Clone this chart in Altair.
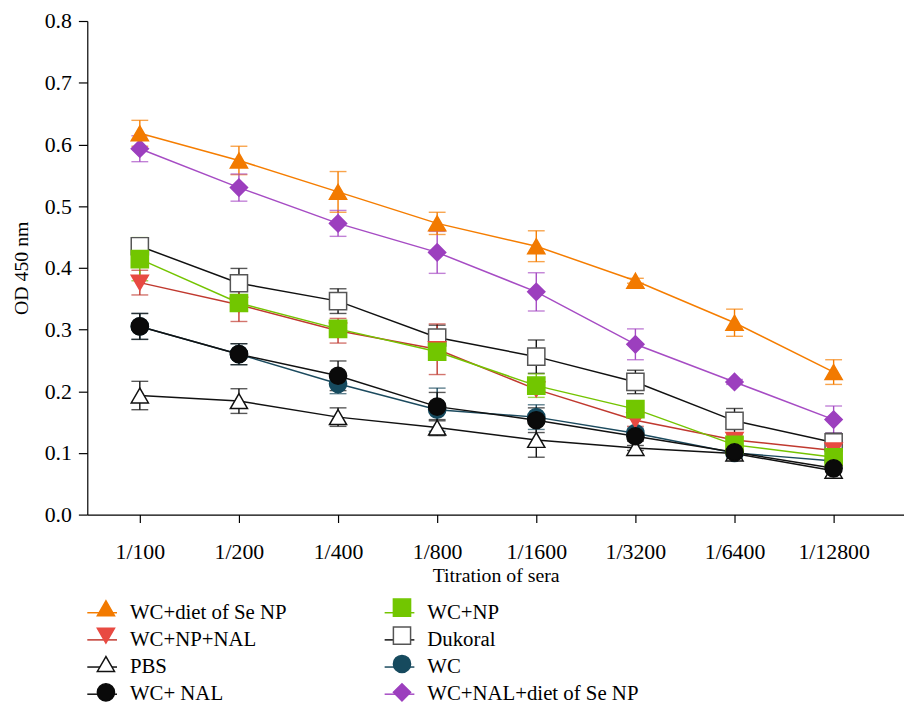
import altair as alt
import pandas as pd

dilutions = ["1/100", "1/200", "1/400", "1/800", "1/1600", "1/3200", "1/6400", "1/12800"]

# order matches the legend read column by column
series_names = ["WC+diet of Se NP", "WC+NP+NAL", "PBS", "WC+ NAL",
                "WC+NP", "Dukoral", "WC", "WC+NAL+diet of Se NP"]

# stacking order of the markers (first drawn at the bottom)
draw_order = ["WC+NAL+diet of Se NP", "WC", "Dukoral", "PBS", "WC+NP+NAL",
              "WC+NP", "WC+diet of Se NP", "WC+ NAL"]

wc_diet_se = [0.618, 0.574, 0.523, 0.472, 0.435, 0.379, 0.311, 0.231]
wc_diet_se_err = [0.021, 0.023, 0.033, 0.018, 0.025, 0.004, 0.022, 0.020]

wc_np_nal = [0.376, 0.340, 0.298, 0.268, 0.203, 0.153, 0.121, 0.104]
wc_np_nal_err = [0.020, 0.027, 0.020, 0.041, 0.008, 0.010, 0.008, 0.020]

pbs = [0.193, 0.184, 0.158, 0.141, 0.121, 0.108, 0.099, 0.071]
pbs_err = [0.023, 0.020, 0.015, 0.013, 0.028, 0.004, 0.004, 0.010]

wc_nal = [0.305, 0.260, 0.225, 0.175, 0.153, 0.127, 0.101, 0.075]
wc_nal_err = [0.021, 0.017, 0.024, 0.023, 0.020, 0.008, 0.012, 0.015]

wc_np = [0.414, 0.343, 0.301, 0.264, 0.209, 0.171, 0.113, 0.093]
wc_np_err = [0.035, 0.006, 0.006, 0.005, 0.019, 0.010, 0.005, 0.010]

dukoral = [0.435, 0.375, 0.346, 0.287, 0.256, 0.215, 0.152, 0.117]
dukoral_err = [0.008, 0.024, 0.020, 0.020, 0.027, 0.019, 0.020, 0.015]

wc = [0.305, 0.260, 0.212, 0.170, 0.158, 0.132, 0.100, 0.087]
wc_err = [0.021, 0.017, 0.016, 0.035, 0.020, 0.008, 0.010, 0.012]

wc_nal_diet_se = [0.593, 0.530, 0.472, 0.425, 0.361, 0.276, 0.215, 0.154]
wc_nal_diet_se_err = [0.021, 0.022, 0.021, 0.034, 0.031, 0.025, 0.004, 0.022]

values = [wc_diet_se, wc_np_nal, pbs, wc_nal, wc_np, dukoral, wc, wc_nal_diet_se]
errors = [wc_diet_se_err, wc_np_nal_err, pbs_err, wc_nal_err, wc_np_err, dukoral_err, wc_err, wc_nal_diet_se_err]

line_colors = ["#F57D00", "#C0392F", "#111111", "#111111", "#74C400", "#111111", "#1B4A5E", "#A64CC4"]
marker_fills = ["#F27A00", "#E84A42", "#FFFFFF", "#0A0A0A", "#72C600", "#FFFFFF", "#164A5E", "#9C3FBE"]
marker_strokes = ["#F27A00", "#E84A42", "#111111", "#0A0A0A", "#72C600", "#555555", "#164A5E", "#9C3FBE"]
marker_shapes = ["triangle-up", "triangle-down", "triangle-up", "circle", "square", "square", "circle", "diamond"]

marker_names = [n + " " for n in series_names]

rows = []
for name, mname, vals, errs in zip(series_names, marker_names, values, errors):
    for i, (v, e) in enumerate(zip(vals, errs)):
        rows.append({"series": name, "series_m": mname, "z": draw_order.index(name),
                     "idx": i, "value": v, "lo": v - e, "hi": v + e})
df = pd.DataFrame(rows).sort_values(["z", "idx"]).reset_index(drop=True)

FONT = "Liberation Serif"

label_expr = "[" + ",".join("'" + d + "'" for d in dilutions) + "][datum.value]"

x_enc = alt.X("idx:Q",
              scale=alt.Scale(domain=[-0.53, 7.71], nice=False, zero=False),
              axis=alt.Axis(values=list(range(len(dilutions))), labelExpr=label_expr,
                            title="Titration of sera", grid=False, tickSize=8,
                            labelPadding=19, titlePadding=3))

y_axis = alt.Axis(values=[0, 0.1, 0.2, 0.3, 0.4, 0.5, 0.6, 0.7, 0.8], format=".1f",
                  title="OD 450 nm", grid=False, tickSize=9, labelPadding=7, titlePadding=13)

line_scale = alt.Scale(domain=series_names, range=line_colors)
fill_scale = alt.Scale(domain=marker_names, range=marker_fills)
stroke_scale = alt.Scale(domain=marker_names, range=marker_strokes)
shape_scale = alt.Scale(domain=marker_names, range=marker_shapes)

legend_line = alt.Legend(title=None, orient="none", legendX=-1, legendY=581, columns=2,
                         symbolType="stroke", symbolSize=900, symbolStrokeWidth=1.5,
                         symbolOpacity=1,
                         labelFont=FONT, labelFontSize=21, labelColor="black",
                         labelOffset=12, columnPadding=95, rowPadding=1.4, labelLimit=400)

legend_marker = alt.Legend(title=None, orient="none", legendX=8.3, legendY=581, columns=2,
                           symbolSize=300, symbolStrokeWidth=1.5, symbolOpacity=1,
                           labelFont=FONT, labelFontSize=21, labelExpr="''",
                           labelOffset=0, columnPadding=273.7, rowPadding=3.6,
                           labelLimit=400)

base = alt.Chart(df)

color_enc = alt.Color("series:N", scale=line_scale, legend=legend_line)

err_rule = base.mark_rule(strokeWidth=1.4).encode(
    x=x_enc, y=alt.Y("lo:Q", scale=alt.Scale(domain=[0, 0.8], nice=False), axis=y_axis),
    y2="hi:Q", color=color_enc)

cap_lo = base.mark_tick(orient="horizontal", size=17, thickness=1.4).encode(
    x=x_enc, y="lo:Q", color=color_enc)
cap_hi = base.mark_tick(orient="horizontal", size=17, thickness=1.4).encode(
    x=x_enc, y="hi:Q", color=color_enc)

lines = base.mark_line(strokeWidth=1.5).encode(
    x=x_enc, y="value:Q", color=color_enc)

points = base.mark_point(filled=True, size=300, opacity=1, strokeWidth=1.5).encode(
    x=x_enc, y="value:Q",
    fill=alt.Fill("series_m:N", scale=fill_scale, legend=legend_marker),
    stroke=alt.Stroke("series_m:N", scale=stroke_scale, legend=legend_marker),
    shape=alt.Shape("series_m:N", scale=shape_scale, legend=legend_marker),
    order=alt.Order("z:Q"))

chart = alt.layer(err_rule, cap_lo, cap_hi, lines, points).properties(
    width=824, height=498,
    autosize=alt.AutoSizeParams(type="none"),
    padding={"left": 80, "top": 10, "right": 0, "bottom": 192},
).configure_view(stroke=None).configure_axis(
    domainColor="black", domainWidth=1.2, tickColor="black", tickWidth=1.2,
    labelFont=FONT, labelFontSize=22, labelColor="black",
    titleFont=FONT, titleFontSize=20, titleFontWeight="normal", titleColor="black",
)

chart.save("out.html", embed_options={"renderer": "svg", "actions": False})
